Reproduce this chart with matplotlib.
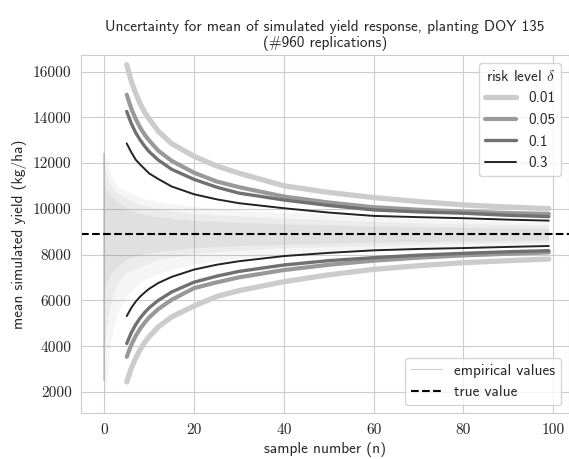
import matplotlib
matplotlib.use('Agg')
import matplotlib.pyplot as plt
import seaborn as sns

# sample numbers where the bounds were read
n_bound = [5, 6, 7, 8, 9, 10, 12, 15, 20, 25, 30, 40, 50, 60, 70, 80, 90, 99]

upper_001 = [16300, 15590, 15050, 14590, 14220, 13930, 13400, 12850, 12300, 11880, 11560, 11010, 10720, 10495, 10320, 10175, 10080, 10013]
upper_005 = [14990, 14390, 13930, 13550, 13240, 12990, 12550, 12100, 11580, 11200, 10950, 10540, 10280, 10074, 9965, 9882, 9820, 9781]
upper_01 = [14260, 13740, 13330, 13010, 12740, 12500, 12140, 11730, 11290, 10950, 10690, 10390, 10150, 9956, 9870, 9812, 9720, 9663]
upper_03 = [12860, 12480, 12150, 11940, 11745, 11550, 11310, 10980, 10640, 10420, 10250, 10030, 9840, 9694, 9640, 9593, 9530, 9488]

lower_001 = [2442, 3030, 3480, 3860, 4165, 4420, 4840, 5280, 5760, 6170, 6430, 6820, 7120, 7360, 7520, 7650, 7740, 7810]
lower_005 = [3536, 4050, 4450, 4770, 5030, 5260, 5620, 6030, 6540, 6790, 7010, 7330, 7560, 7740, 7870, 7970, 8040, 8100]
lower_01 = [4122, 4585, 4945, 5235, 5475, 5680, 6000, 6370, 6800, 7060, 7270, 7550, 7740, 7870, 7980, 8060, 8130, 8175]
lower_03 = [5317, 5670, 5950, 6170, 6350, 6510, 6760, 7030, 7350, 7560, 7715, 7940, 8080, 8190, 8250, 8290, 8340, 8380]

risk_levels = ['0.01', '0.05', '0.1', '0.3']
true_value = 8910

# envelope of the empirical running means (960 replications)
band_n = [0, 1, 2, 3, 5, 8, 12, 20, 30, 40, 60, 80, 99]
outer_lo = [1500, 3500, 4800, 5500, 6200, 6800, 7200, 7600, 7850, 8000, 8200, 8350, 8450]
outer_hi = [12450, 11800, 11300, 11000, 10800, 10500, 10300, 10100, 9950, 9850, 9650, 9500, 9400]
mid_lo = [4000, 5500, 6300, 6800, 7200, 7500, 7800, 8050, 8200, 8300, 8400, 8500, 8550]
mid_hi = [11800, 11200, 10900, 10700, 10450, 10200, 10000, 9800, 9700, 9600, 9450, 9350, 9300]
inner_lo = [6500, 7000, 7300, 7500, 7800, 8000, 8150, 8300, 8400, 8450, 8550, 8600, 8650]
inner_hi = [11000, 10700, 10500, 10300, 10000, 9800, 9650, 9500, 9420, 9350, 9250, 9200, 9150]

sns.set_style('whitegrid')
plt.rcParams['font.family'] = ['cmss10', 'DejaVu Sans']
plt.rcParams['mathtext.fontset'] = 'cm'
plt.rcParams['axes.unicode_minus'] = False

fig = plt.figure(figsize=(5.69, 4.59), dpi=100)
ax = fig.add_axes([0.143, 0.100, 0.857, 0.780])

# empirical values
ax.fill_between(band_n, outer_lo, outer_hi, color='0.5', alpha=0.08, lw=0)
ax.fill_between(band_n, mid_lo, mid_hi, color='0.5', alpha=0.08, lw=0)
ax.fill_between(band_n, inner_lo, inner_hi, color='0.5', alpha=0.10, lw=0)
ax.vlines(band_n[0], 2500, outer_hi[0], color='0.6', lw=1.2, alpha=0.5)

uppers = [upper_001, upper_005, upper_01, upper_03]
lowers = [lower_001, lower_005, lower_01, lower_03]
colors = ['#cccccc', '#999999', '#707070', '#222222']
widths = [3.8, 3.0, 2.4, 1.4]

handles = []
for up, lo, lbl, c, w in zip(uppers, lowers, risk_levels, colors, widths):
    h, = ax.plot(n_bound, up, color=c, lw=w, label=lbl, solid_capstyle='round')
    ax.plot(n_bound, lo, color=c, lw=w, solid_capstyle='round')
    handles.append(h)

ax.axhline(true_value, color='black', ls='--', lw=1.5)

ax.set_xlim(-5.1, 103.5)
ax.set_ylim(1080, 16720)
ax.set_xticks([0, 20, 40, 60, 80, 100])
ax.set_yticks(range(2000, 16001, 2000))
for t in ax.get_xticklabels() + ax.get_yticklabels():
    t.set_fontfamily('cmr10')
    t.set_fontsize(11)

ax.set_xlabel('sample number (n)', fontsize=11)
ax.set_ylabel('mean simulated yield (kg/ha)', fontsize=11)
ax.set_title('Uncertainty for mean of simulated yield response, planting DOY 135\n(#960 replications)',
             fontsize=11)

leg1 = ax.legend(handles=handles, title=r'risk level $\delta$', loc='upper right',
                 fontsize=11, title_fontsize=11)
ax.add_artist(leg1)

emp = plt.Line2D([], [], color='#cccccc', lw=0.8)
tv = plt.Line2D([], [], color='black', ls='--', lw=1.5)
ax.legend([emp, tv], ['empirical values', 'true value'], loc='lower right', fontsize=11)

fig.savefig('out.png', dpi=100)
